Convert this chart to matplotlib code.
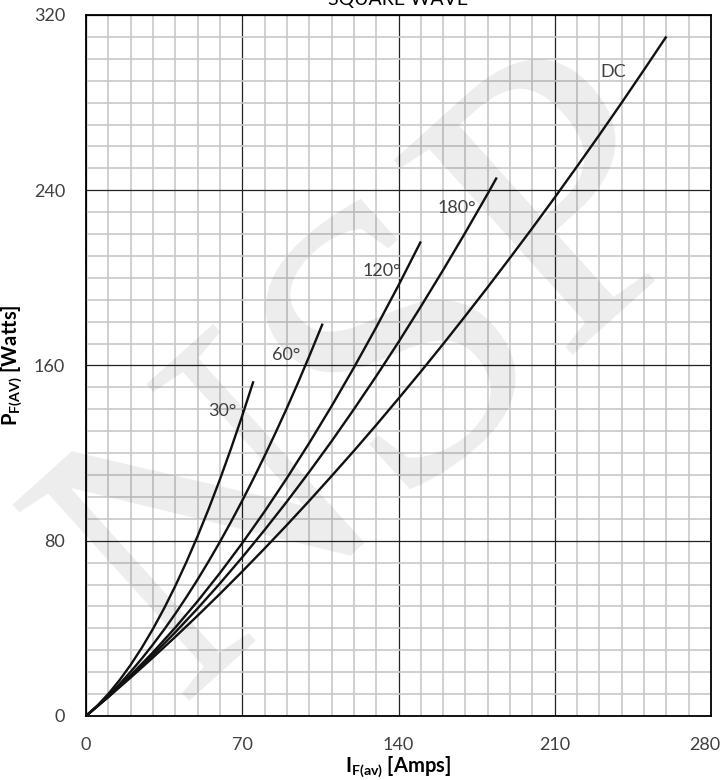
import matplotlib
matplotlib.use("Agg")
import matplotlib.pyplot as plt
import matplotlib.transforms as mtransforms
from matplotlib.ticker import MultipleLocator

plt.rcParams['font.family'] = ['Lato', 'DejaVu Sans']
plt.rcParams['mathtext.fontset'] = 'custom'
plt.rcParams['mathtext.rm'] = 'Lato'
plt.rcParams['mathtext.bf'] = 'Lato:bold'

# curves: I_F(av) [A] -> P_F(AV) [W]
i_30 = [0, 5, 10, 15, 20, 25, 30, 35, 40, 45, 50, 55, 60, 65, 70, 75]
p_30 = [0, 4.65, 10.08, 16.31, 23.34, 31.15, 39.76, 49.15, 59.34, 70.33,
        82.1, 94.67, 108.0, 122.2, 137.1, 152.8]

i_60 = [0, 5, 10, 15, 20, 25, 30, 35, 40, 45, 50, 55, 60, 65, 70, 75, 80,
        85, 90, 95, 100, 106]
p_60 = [0, 4.45, 9.29, 14.53, 20.17, 26.2, 32.63, 39.45, 46.67, 54.29, 62.3,
        70.71, 79.51, 88.71, 98.31, 108.3, 118.7, 129.5, 140.6, 152.2, 164.2,
        179.1]

i_120 = [0, 10, 20, 30, 40, 50, 60, 70, 80, 90, 100, 110, 120, 130, 140, 150]
p_120 = [0, 8.9, 18.58, 29.06, 40.34, 52.4, 65.26, 78.9, 93.34, 108.6, 124.6,
         141.4, 159.0, 177.4, 196.6, 216.6]

i_180 = [0, 10, 20, 30, 40, 50, 60, 70, 80, 90, 100, 110, 120, 130, 140, 150,
         160, 170, 180, 184]
p_180 = [0, 8.76, 18.06, 27.88, 38.22, 49.1, 60.5, 72.44, 84.9, 97.88, 111.4,
         125.4, 140.0, 155.1, 170.7, 186.9, 203.6, 220.8, 238.5, 245.8]

i_dc = [0, 10, 20, 30, 40, 50, 60, 70, 80, 90, 100, 110, 120, 130, 140, 150,
        160, 170, 180, 190, 200, 210, 220, 230, 240, 250, 260]
p_dc = [0, 8.63, 17.53, 26.69, 36.11, 45.8, 55.75, 65.97, 76.45, 87.19, 98.2,
        109.5, 121.0, 132.8, 144.9, 157.2, 169.8, 182.7, 195.8, 209.2, 222.8,
        236.7, 250.9, 265.3, 280.0, 295.0, 310.2]

labels = ['30°', '60°', '120°', '180°', 'DC']
label_x = [61, 89.5, 132.5, 166, 236]
label_y = [139, 165, 203, 232, 294]

x_ticks = [0, 70, 140, 210, 280]
y_ticks = [0, 80, 160, 240, 320]

fig = plt.figure(figsize=(7.24, 7.80), dpi=100)
ax = fig.add_axes([0.1188, 0.0821, 0.8633, 0.8987])

# watermark
ax.text(0.535, 0.51, 'NSP', transform=fig.transFigure, family='Liberation Serif',
        fontsize=290, color='#000000', alpha=0.075, rotation=42,
        ha='center', va='center', clip_on=False, zorder=1)

for xs, ys in [(i_30, p_30), (i_60, p_60), (i_120, p_120), (i_180, p_180), (i_dc, p_dc)]:
    ax.plot(xs, ys, color='#111111', lw=1.7, zorder=3, solid_capstyle='butt')

for t, x, y in zip(labels, label_x, label_y):
    ax.text(x, y, t, fontsize=13, color='#404040', ha='center', va='center', zorder=4)

ax.set_xlim(0, 280)
ax.set_ylim(0, 320)
ax.set_xticks(x_ticks)
ax.set_yticks(y_ticks)
ax.xaxis.set_minor_locator(MultipleLocator(10))
ax.yaxis.set_minor_locator(MultipleLocator(10))
ax.set_axisbelow(True)
ax.grid(which='minor', color='#c8c8c8', lw=1.2)
ax.grid(which='major', color='#222222', lw=0.9)
ax.tick_params(which='both', length=0, labelsize=13, labelcolor='#404040')
ax.tick_params(axis='x', pad=15)
ax.tick_params(axis='y', pad=15)
for s in ax.spines.values():
    s.set_color('black')
    s.set_linewidth(1.3)

# last x tick label sits a little left of the axis end
last = ax.get_xticklabels()[-1]
last.set_transform(last.get_transform() +
                   mtransforms.ScaledTranslation(-6 / 100, 0, fig.dpi_scale_trans))

ax.set_xlabel(r'$\mathbf{I_{F(av)}}$ [Amps]', fontsize=14.5, fontweight='bold', labelpad=1)
ax.set_ylabel(r'$\mathbf{P_{F(AV)}}$ [Watts]', fontsize=14.5, fontweight='bold', labelpad=7)

fig.text(0.55, 1 - 5 / 780, 'SQUARE WAVE', fontsize=14, ha='center', va='baseline')

fig.savefig('out.png', dpi=100)
